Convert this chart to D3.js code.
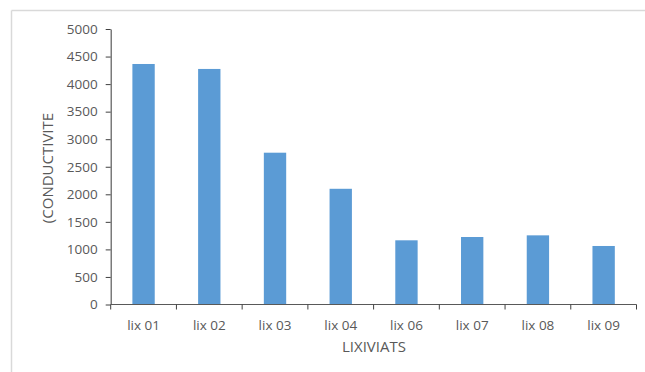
<!DOCTYPE html>
<html>
<head>
<meta charset="utf-8">
<script src="https://cdn.jsdelivr.net/npm/d3@7/dist/d3.min.js"></script>
<style>
  html, body { margin: 0; padding: 0; background: #fff; }
  svg { display: block; }
  .tick text { font-family: "Open Sans", sans-serif; font-size: 13.5px; fill: #595959; }
  .axis-title { font-family: "Open Sans", sans-serif; font-size: 15px; fill: #595959; }
</style>
</head>
<body>
<svg id="chart" width="645" height="372"></svg>
<script>
// Conductivity per leachate sample
const categories = ["lix 01", "lix 02", "lix 03", "lix 04", "lix 06", "lix 07", "lix 08", "lix 09"];
const conductivite = [4365, 4275, 2755, 2100, 1165, 1225, 1255, 1062];
const yTicks = [0, 500, 1000, 1500, 2000, 2500, 3000, 3500, 4000, 4500, 5000];

const svg = d3.select("#chart");
const W = 645, H = 372;
const plotLeft = 110.7, plotRight = 636.5, plotTop = 29, plotBottom = 304.5;

// Frame of the chart area (only top and left edges fall inside the view)
svg.append("line").attr("x1", 11.5).attr("x2", W).attr("y1", 10.5).attr("y2", 10.5)
  .attr("stroke", "#d9d9d9").attr("stroke-width", 1.5);
svg.append("line").attr("x1", 11.5).attr("x2", 11.5).attr("y1", 10.5).attr("y2", H)
  .attr("stroke", "#d9d9d9").attr("stroke-width", 1.5);

const x = d3.scaleBand().domain(categories).range([plotLeft, plotRight]).paddingInner(0.66).paddingOuter(0.33);
const xTickScale = d3.scaleBand().domain(categories).range([plotLeft, plotRight]);
const y = d3.scaleLinear().domain([0, 5000]).range([plotBottom, plotTop]);

// Bars
svg.append("g").selectAll("rect")
  .data(categories.map((c, i) => ({ c, v: conductivite[i] })))
  .join("rect")
  .attr("x", d => x(d.c))
  .attr("y", d => y(d.v))
  .attr("width", x.bandwidth())
  .attr("height", d => y(0) - y(d.v))
  .attr("fill", "#5b9bd5");

// Y axis
const yAxis = svg.append("g").attr("transform", `translate(${plotLeft},0)`)
  .call(d3.axisLeft(y).tickValues(yTicks).tickFormat(d3.format("d"))
    .tickSize(5).tickSizeOuter(0).tickPadding(8));
yAxis.select(".domain").attr("stroke", "#595959").attr("stroke-width", 1.2);
yAxis.selectAll(".tick line").attr("stroke", "#404040");

// X axis: category boundaries carry the tick marks
const xAxis = svg.append("g").attr("transform", `translate(0,${plotBottom})`);
xAxis.append("line").attr("x1", plotLeft).attr("x2", plotRight).attr("y1", 0).attr("y2", 0)
  .attr("stroke", "#595959").attr("stroke-width", 1.2);
const bounds = categories.map(c => xTickScale(c)).concat([plotRight]);
xAxis.selectAll(".bnd").data(bounds).join("line").attr("class", "bnd")
  .attr("x1", d => d).attr("x2", d => d).attr("y1", 0).attr("y2", 5)
  .attr("stroke", "#404040");
xAxis.selectAll(".tick").data(categories).join("g").attr("class", "tick")
  .attr("transform", d => `translate(${xTickScale(d) + xTickScale.bandwidth() / 2},0)`)
  .append("text").attr("y", 25).attr("text-anchor", "middle").text(d => d);

// Axis titles
svg.append("text").attr("class", "axis-title")
  .attr("x", 374).attr("y", 352).attr("text-anchor", "middle").text("LIXIVIATS");
svg.append("text").attr("class", "axis-title")
  .attr("transform", "translate(53,168) rotate(-90)").attr("text-anchor", "middle").text("(CONDUCTIVITE");
</script>
</body>
</html>
